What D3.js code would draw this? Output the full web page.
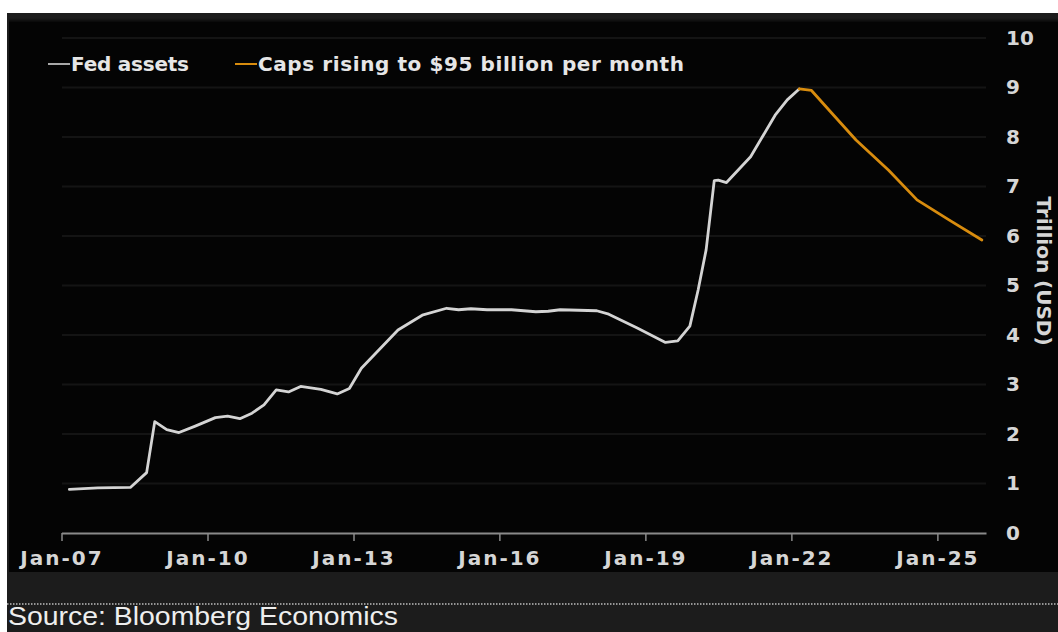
<!DOCTYPE html>
<html>
<head>
<meta charset="utf-8">
<script src="https://cdn.jsdelivr.net/npm/d3@7"></script>
<style>
  html, body { margin: 0; padding: 0; background: #ffffff; }
  svg { display: block; }
</style>
</head>
<body>
<svg id="chart" width="1058" height="632"></svg>
<script>
// Fed balance sheet, trillions of USD
const fedDates = ["2007-03","2007-10","2008-06","2008-10","2008-12","2009-03","2009-06","2009-10",
  "2010-03","2010-06","2010-09","2010-12","2011-03","2011-06","2011-09","2011-12","2012-05","2012-09",
  "2012-12","2013-03","2013-12","2014-06","2014-12","2015-03","2015-06","2015-10","2016-04","2016-10",
  "2017-01","2017-04","2018-01","2018-04","2018-11","2019-06","2019-09","2019-12","2020-02","2020-04",
  "2020-06","2020-07","2020-09","2021-03","2021-09","2021-12","2022-03"];
const fedValues = [0.88,0.91,0.92,1.22,2.25,2.09,2.03,2.16,
  2.33,2.36,2.31,2.42,2.59,2.89,2.85,2.96,2.90,2.81,
  2.92,3.33,4.10,4.40,4.54,4.51,4.53,4.51,4.51,4.47,
  4.48,4.51,4.49,4.42,4.14,3.85,3.88,4.18,4.91,5.72,
  7.12,7.13,7.08,7.60,8.44,8.75,8.97];

// Projected run-off path with caps rising to $95bn per month
const capDates = ["2022-03","2022-06","2022-11","2023-05","2024-01","2024-08","2025-04","2025-12"];
const capValues = [8.97,8.94,8.48,7.94,7.33,6.73,6.32,5.92];

const seriesNames = ["Fed assets", "Caps rising to $95 billion per month"];
const seriesColors = ["#d4d4d4", "#d88c0e"];

const xTickLabels = ["Jan-07","Jan-10","Jan-13","Jan-16","Jan-19","Jan-22","Jan-25"];
const yTicks = [0,1,2,3,4,5,6,7,8,9,10];
const yTitle = "Trillion (USD)";
const sourceText = "Source: Bloomberg Economics";

const parseMonth = d3.timeParse("%Y-%m");
const parseTick = d3.timeParse("%b-%y");

const svg = d3.select("#chart");
const W = 1058, H = 632;

// panel background
svg.append("rect").attr("x", 7).attr("y", 13).attr("width", W - 7).attr("height", H - 13).attr("fill", "#1c1c1c");
const grad = svg.append("defs").append("linearGradient").attr("id", "topfade").attr("x1", 0).attr("y1", 0).attr("x2", 0).attr("y2", 1);
grad.append("stop").attr("offset", "0").attr("stop-color", "#1c1c1c");
grad.append("stop").attr("offset", "1").attr("stop-color", "#040404");
svg.append("rect").attr("x", 9).attr("y", 18).attr("width", W - 9).attr("height", 5).attr("fill", "url(#topfade)");
svg.append("rect").attr("x", 9).attr("y", 22).attr("width", W - 9).attr("height", 572 - 22).attr("fill", "#040404");

const x = d3.scaleTime()
  .domain([new Date(2007, 0, 1), new Date(2026, 0, 1)])
  .range([61.5, 986]);
const y = d3.scaleLinear().domain([0, 10]).range([533, 38]);

// gridlines
svg.append("g").selectAll("line")
  .data(yTicks.filter(d => d > 0))
  .join("line")
  .attr("x1", 62).attr("x2", 986)
  .attr("y1", d => y(d)).attr("y2", d => y(d))
  .attr("stroke", "#141414").attr("stroke-width", 2);

// x axis
const xAxis = d3.axisBottom(x)
  .tickValues(xTickLabels.map(parseTick))
  .tickFormat(d3.timeFormat("%b-%y"))
  .tickSize(8)
  .tickSizeOuter(0)
  .tickPadding(10);
const gx = svg.append("g").attr("transform", `translate(0,${y(0)})`).call(xAxis);
gx.select(".domain").attr("stroke", "#8a8a8a").attr("stroke-width", 2);
gx.selectAll(".tick line").attr("stroke", "#8a8a8a").attr("stroke-width", 1.5);
gx.selectAll(".tick text")
  .attr("fill", "#d6d6d6")
  .attr("font-family", "DejaVu Sans")
  .attr("font-weight", "bold")
  .attr("font-size", 20)
  .attr("letter-spacing", 2);

// y axis on the right
const yAxis = d3.axisRight(y).tickValues(yTicks).tickSize(0).tickPadding(0).tickFormat(d3.format("d"));
const gy = svg.append("g").attr("transform", "translate(1006,0)").call(yAxis);
gy.select(".domain").remove();
gy.selectAll(".tick text")
  .attr("fill", "#d6d6d6")
  .attr("font-family", "DejaVu Sans")
  .attr("font-weight", "bold")
  .attr("font-size", 20);

svg.append("text")
  .attr("transform", "translate(1037,271) rotate(90)")
  .attr("text-anchor", "middle")
  .attr("fill", "#d6d6d6")
  .attr("font-family", "DejaVu Sans")
  .attr("font-weight", "bold")
  .attr("font-size", 20)
  .text(yTitle);

// lines
const line = d3.line()
  .x(d => x(d.date))
  .y(d => y(d.value))
  .curve(d3.curveLinear);

const fedData = fedDates.map((d, i) => ({ date: parseMonth(d), value: fedValues[i] }));
const capData = capDates.map((d, i) => ({ date: parseMonth(d), value: capValues[i] }));

svg.append("path").datum(fedData).attr("d", line)
  .attr("fill", "none").attr("stroke", seriesColors[0]).attr("stroke-width", 2.8)
  .attr("stroke-linejoin", "round").attr("stroke-linecap", "round");
svg.append("path").datum(capData).attr("d", line)
  .attr("fill", "none").attr("stroke", seriesColors[1]).attr("stroke-width", 2.8)
  .attr("stroke-linejoin", "round").attr("stroke-linecap", "round");

// legend
const legendX = [48, 235];
const legendTextWidth = [118, 426];
const leg = svg.append("g").selectAll("g").data(seriesNames).join("g")
  .attr("transform", (d, i) => `translate(${legendX[i]},71)`);
leg.append("line").attr("x1", 0).attr("x2", 22).attr("y1", -7).attr("y2", -7)
  .attr("stroke", (d, i) => i === 0 ? "#a8a8a8" : seriesColors[1]).attr("stroke-width", 2);
leg.append("text").attr("x", 23)
  .attr("fill", "#e6e6e6")
  .attr("font-family", "DejaVu Sans")
  .attr("font-weight", "bold")
  .attr("font-size", 20)
  .attr("textLength", (d, i) => legendTextWidth[i])
  .attr("lengthAdjust", "spacing")
  .text(d => d);

// footer
svg.append("line").attr("x1", 7).attr("x2", W).attr("y1", 604).attr("y2", 604)
  .attr("stroke", "#bdbdbd").attr("stroke-width", 1.5).attr("stroke-dasharray", "1.5,1.5");
svg.append("text").attr("x", 8).attr("y", 625)
  .attr("fill", "#eeeeee")
  .attr("font-family", "Liberation Sans Narrow, Liberation Sans, Arial")
  .attr("font-size", 26)
  .attr("textLength", 390)
  .attr("lengthAdjust", "spacingAndGlyphs")
  .text(sourceText);
</script>
</body>
</html>
